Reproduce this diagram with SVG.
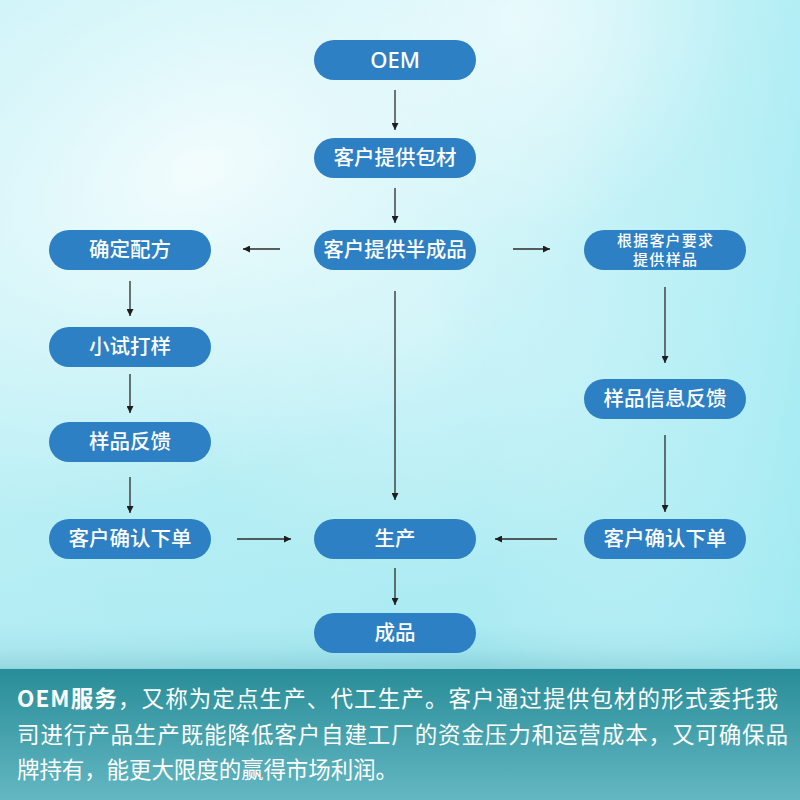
<svg xmlns="http://www.w3.org/2000/svg" width="800" height="800" viewBox="0 0 800 800">
<defs>
<linearGradient id="bgBase" x1="0" y1="0" x2="0" y2="1">
<stop offset="0" stop-color="#c4f2f7"/>
<stop offset="0.5" stop-color="#b6eff5"/>
<stop offset="0.78" stop-color="#abebf2"/>
<stop offset="0.81" stop-color="#a1e4ec"/>
<stop offset="0.835" stop-color="#8cd4dd"/>
</linearGradient>
<linearGradient id="sideTint" x1="0" y1="0" x2="1" y2="0">
<stop offset="0" stop-color="#ffffff" stop-opacity="0.1"/>
<stop offset="0.6" stop-color="#ffffff" stop-opacity="0"/>
<stop offset="1" stop-color="#97e8f1" stop-opacity="0.4"/>
</linearGradient>
<radialGradient id="glow1" cx="200" cy="170" r="380" gradientUnits="userSpaceOnUse" gradientTransform="rotate(-25 200 170) scale(1.3 0.8) translate(-46 42)">
<stop offset="0" stop-color="#ffffff" stop-opacity="0.8"/>
<stop offset="0.45" stop-color="#ffffff" stop-opacity="0.4"/>
<stop offset="1" stop-color="#ffffff" stop-opacity="0"/>
</radialGradient>
<radialGradient id="glow2" cx="520" cy="20" r="220" gradientUnits="userSpaceOnUse">
<stop offset="0" stop-color="#ffffff" stop-opacity="0.5"/>
<stop offset="1" stop-color="#ffffff" stop-opacity="0"/>
</radialGradient>
<radialGradient id="glow3" cx="420" cy="330" r="260" gradientUnits="userSpaceOnUse">
<stop offset="0" stop-color="#ffffff" stop-opacity="0.3"/>
<stop offset="1" stop-color="#ffffff" stop-opacity="0"/>
</radialGradient>
<linearGradient id="panel" x1="0" y1="0" x2="0" y2="1">
<stop offset="0" stop-color="#288d98"/>
<stop offset="1" stop-color="#63b7c2"/>
</linearGradient>
<marker id="arr" viewBox="0 0 10 10" refX="10" refY="5" markerWidth="8" markerHeight="7" markerUnits="userSpaceOnUse" orient="auto">
<path d="M0,0 L10,5 L0,10 z" fill="#1e1e1e"/>
</marker>
<style>
.node rect{fill:#2c80c3;}
.node text{fill:#ffffff;font-family:"Noto Sans CJK SC","Noto Sans",sans-serif;font-size:20.5px;font-weight:500;text-anchor:middle;}
.node text.small{font-size:15px;}
.node text.latin{font-family:"Noto Sans","Noto Sans CJK SC",sans-serif;font-size:22px;}
#connectors line{stroke:#2a2a2a;stroke-width:1.3;marker-end:url(#arr);}
.desc{fill:#ffffff;font-family:"Noto Sans CJK SC","Noto Sans",sans-serif;font-size:22.5px;}
</style>
</defs>

<rect x="0" y="0" width="800" height="800" fill="url(#bgBase)"/>
<rect x="0" y="0" width="800" height="668" fill="url(#sideTint)"/>
<rect x="0" y="0" width="800" height="668" fill="url(#glow1)"/>
<rect x="0" y="0" width="800" height="668" fill="url(#glow2)"/>
<rect x="0" y="0" width="800" height="668" fill="url(#glow3)"/>

<g id="connectors">
<line x1="395" y1="90" x2="395" y2="130"/>
<line x1="395" y1="188" x2="395" y2="223"/>
<line x1="280" y1="249" x2="243" y2="249"/>
<line x1="513" y1="249" x2="550" y2="249"/>
<line x1="395" y1="291" x2="395" y2="500"/>
<line x1="130" y1="281" x2="130" y2="316"/>
<line x1="130" y1="374" x2="130" y2="413"/>
<line x1="130" y1="477" x2="130" y2="513"/>
<line x1="237" y1="539" x2="291" y2="539"/>
<line x1="665" y1="287" x2="665" y2="363"/>
<line x1="665" y1="435" x2="665" y2="512"/>
<line x1="557" y1="539" x2="495" y2="539"/>
<line x1="395" y1="568" x2="395" y2="605"/>
</g>

<g id="n-oem" class="node"><rect x="314" y="40" width="162" height="40" rx="20"/><text class="latin" x="395" y="68">OEM</text></g>
<g id="n-baocai" class="node"><rect x="314" y="138" width="162" height="40" rx="20"/><text x="395" y="165">客户提供包材</text></g>
<g id="n-banchengpin" class="node"><rect x="314" y="230" width="162" height="40" rx="20"/><text x="395" y="257">客户提供半成品</text></g>
<g id="n-peifang" class="node"><rect x="49" y="230" width="162" height="40" rx="20"/><text x="130" y="257">确定配方</text></g>
<g id="n-yaoqiu" class="node"><rect x="584" y="230" width="162" height="40" rx="20"/><text class="small" x="665" y="246" textLength="96" lengthAdjust="spacing">根据客户要求</text><text class="small" x="665" y="265" textLength="64" lengthAdjust="spacing">提供样品</text></g>
<g id="n-xiaoshi" class="node"><rect x="49" y="327" width="162" height="40" rx="20"/><text x="130" y="354">小试打样</text></g>
<g id="n-fankui" class="node"><rect x="49" y="422" width="162" height="40" rx="20"/><text x="130" y="449">样品反馈</text></g>
<g id="n-xinxi" class="node"><rect x="584" y="379" width="162" height="40" rx="20"/><text x="665" y="406">样品信息反馈</text></g>
<g id="n-queren-l" class="node"><rect x="49" y="519" width="162" height="40" rx="20"/><text x="130" y="546">客户确认下单</text></g>
<g id="n-shengchan" class="node"><rect x="314" y="519" width="162" height="40" rx="20"/><text x="395" y="546">生产</text></g>
<g id="n-queren-r" class="node"><rect x="584" y="519" width="162" height="40" rx="20"/><text x="665" y="546">客户确认下单</text></g>
<g id="n-chengpin" class="node"><rect x="314" y="613" width="162" height="40" rx="20"/><text x="395" y="640">成品</text></g>

<rect x="0" y="669" width="800" height="131" fill="url(#panel)"/>
<text class="desc" x="17" y="707" textLength="761" lengthAdjust="spacing"><tspan font-weight="bold">OEM服务</tspan>，又称为定点生产、代工生产。客户通过提供包材的形式委托我</text>
<text class="desc" x="17" y="743" textLength="771" lengthAdjust="spacing">司进行产品生产既能降低客户自建工厂的资金压力和运营成本，又可确保品</text>
<text class="desc" x="17" y="778" textLength="381" lengthAdjust="spacing">牌持有，能更大限度的赢得市场利润。</text>
</svg>
